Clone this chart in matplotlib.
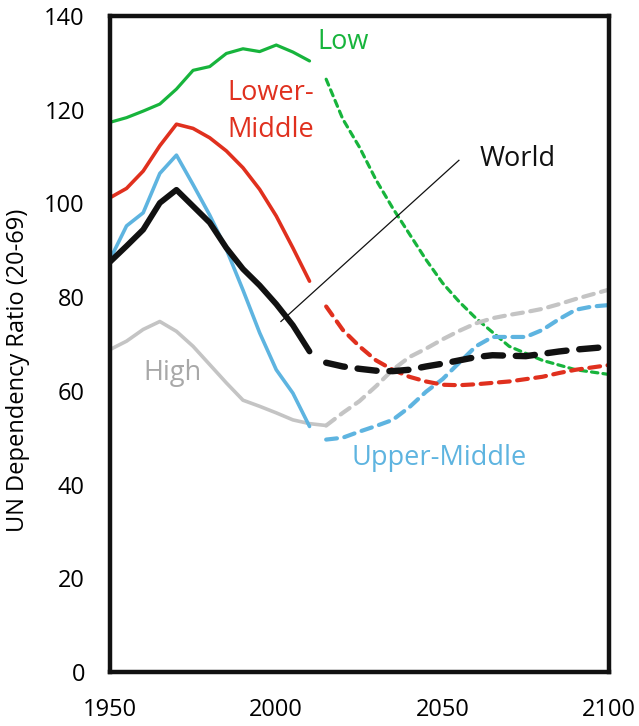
import matplotlib.pyplot as plt

plt.rcParams["font.family"] = ["Open Sans", "DejaVu Sans"]

# historical (solid) and projected (dashed) years
years_hist = [1950, 1955, 1960, 1965, 1970, 1975, 1980, 1985, 1990, 1995, 2000, 2005, 2010]
years_proj = [2015, 2020, 2025, 2030, 2035, 2040, 2045, 2050, 2055,
              2060, 2065, 2070, 2075, 2080, 2085, 2090, 2095, 2100]

low_hist = [117.3, 118.3, 119.7, 121.2, 124.4, 128.4, 129.2, 132.0, 133.0, 132.4, 133.8, 132.3, 130.4]
lower_mid_hist = [101.2, 103.2, 106.9, 112.3, 116.9, 116.0, 114.0, 111.2, 107.6, 103.0, 97.3, 90.5, 83.4]
upper_mid_hist = [88.0, 95.2, 98.0, 106.4, 110.3, 104.0, 97.5, 90.2, 81.5, 72.4, 64.5, 59.5, 52.4]
world_hist = [87.5, 90.9, 94.4, 100.1, 102.9, 99.4, 95.9, 90.5, 86.0, 82.5, 78.5, 74.0, 68.4]
high_hist = [68.8, 70.6, 73.1, 74.8, 72.7, 69.5, 65.6, 61.7, 58.0, 56.7, 55.3, 53.8, 53.0, 52.6]

low_proj = [126.5, 118.0, 112.0, 105.0, 99.0, 93.5, 88.0, 83.0, 79.0,
            75.5, 72.5, 69.5, 68.0, 66.5, 65.5, 64.5, 64.0, 63.5]
lower_mid_proj = [78.0, 73.0, 69.5, 66.5, 64.5, 63.0, 62.0, 61.3, 61.2,
                  61.4, 61.7, 62.0, 62.5, 63.0, 63.8, 64.5, 65.0, 65.5]
upper_mid_proj = [49.6, 50.0, 51.3, 52.5, 53.8, 56.5, 59.8, 62.5, 66.0,
                  69.5, 71.5, 71.5, 71.5, 73.0, 75.3, 77.3, 78.0, 78.3]
world_proj = [66.0, 65.2, 64.7, 64.3, 64.2, 64.5, 65.2, 65.8, 66.5,
              67.2, 67.6, 67.5, 67.4, 67.9, 68.4, 68.8, 69.1, 69.4]
high_proj = [52.6, 55.3, 57.8, 61.0, 64.5, 67.2, 69.0, 71.0, 72.8,
             74.4, 75.5, 76.2, 76.8, 77.5, 78.5, 79.6, 80.6, 81.6]

GREEN = "#17b43c"
RED = "#e0301e"
BLUE = "#5eb4e0"
GRAY = "#c4c4c4"
BLACK = "#111111"

fig = plt.figure(figsize=(6.39, 7.26), dpi=100)
ax = fig.add_axes([0.172, 0.0744, 0.781, 0.9036])

# solid history
ax.plot(years_hist, low_hist, color=GREEN, lw=2.3, solid_capstyle="round")
ax.plot(years_hist, lower_mid_hist, color=RED, lw=2.6, solid_capstyle="round")
ax.plot(years_hist + [2015], high_hist, color=GRAY, lw=2.6, solid_capstyle="round")
ax.plot(years_hist, upper_mid_hist, color=BLUE, lw=2.6, solid_capstyle="round")
ax.plot(years_hist, world_hist, color=BLACK, lw=4.2, solid_capstyle="round")

# dashed projections
ax.plot(years_proj, low_proj, color=GREEN, lw=2.3, ls=(0, (2.0, 1.6)), dash_capstyle="round")
ax.plot(years_proj, high_proj, color=GRAY, lw=3.0, ls=(0, (2.6, 1.8)), dash_capstyle="round")
ax.plot(years_proj, upper_mid_proj, color=BLUE, lw=3.0, ls=(0, (2.6, 1.8)), dash_capstyle="round")
ax.plot(years_proj, lower_mid_proj, color=RED, lw=3.0, ls=(0, (2.6, 1.8)), dash_capstyle="round")
ax.plot(years_proj, world_proj, color=BLACK, lw=4.6, ls=(0, (3.0, 2.0)), dash_capstyle="round")

# series labels
LABEL_SIZE = 19.5
ax.text(2012.5, 134.4, "Low", color=GREEN, fontsize=LABEL_SIZE, va="center", ha="left")
ax.text(1985.2, 119.6, "Lower-\nMiddle", color=RED, fontsize=LABEL_SIZE, va="center", ha="left",
        linespacing=1.4)
ax.text(1960.0, 63.9, "High", color="#a8a8a8", fontsize=LABEL_SIZE, va="center", ha="left")
ax.text(2022.7, 45.7, "Upper-Middle", color=BLUE, fontsize=LABEL_SIZE, va="center", ha="left")
ax.text(2061.2, 109.4, "World", color=BLACK, fontsize=LABEL_SIZE, va="center", ha="left")
ax.plot([2001.4, 2054.9], [74.8, 109.2], color=BLACK, lw=0.9)

ax.set_xlim(1950, 2100)
ax.set_ylim(0, 140)
ax.set_xticks([1950, 2000, 2050, 2100])
ax.set_yticks(range(0, 141, 20))
ax.tick_params(length=0, labelsize=17)
ax.tick_params(axis="y", pad=18)
ax.tick_params(axis="x", pad=19)
fig.text(0.028, 0.49, "UN Dependency Ratio (20-69)", fontsize=17, rotation=90,
         ha="center", va="center")

for spine in ax.spines.values():
    spine.set_linewidth(3.2)
    spine.set_color(BLACK)

fig.savefig("out.png", dpi=100)
